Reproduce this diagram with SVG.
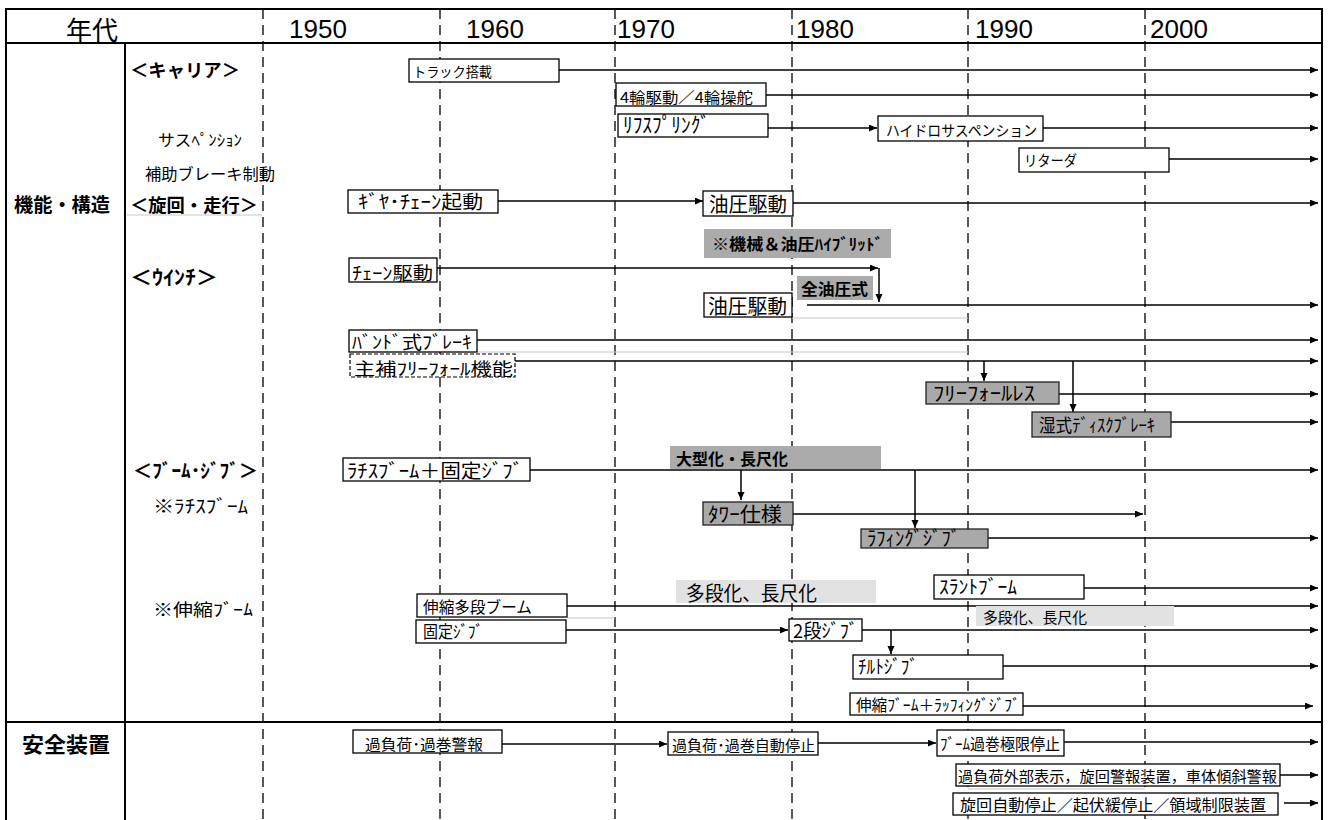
<svg xmlns="http://www.w3.org/2000/svg" width="1329" height="820" viewBox="0 0 1329 820">
<style>
.t{font-family:"Noto Sans CJK JP","Noto Sans",sans-serif;fill:#000}
.b{font-weight:bold}
.yr{font-family:"Liberation Sans",Arial,sans-serif;font-size:26px;fill:#000}
.box{fill:#fff;stroke:#000;stroke-width:1.3}
.dbox{fill:#fff;stroke:#000;stroke-width:1.2;stroke-dasharray:4 2}
.gbox{fill:#a9a9a9;stroke:#222;stroke-width:1.3}
.lbl{fill:#ababab}
.lt{fill:#e2e2e2}
.frame{stroke:#000;stroke-width:2;fill:none}
.dash{stroke:#000;stroke-width:1.3;stroke-dasharray:10 6}
.faint{stroke:#c8c8c8;stroke-width:1.2}
.conn path{stroke:#000;stroke-width:1.5;fill:none}
.ar{marker-end:url(#ah)}
</style>
<defs>
<marker id="ah" markerUnits="userSpaceOnUse" markerWidth="9" markerHeight="8" refX="8" refY="3.5" orient="auto">
<path d="M0,0 L8,3.5 L0,7 z" fill="#000"/>
</marker>
</defs>
<rect width="1329" height="820" fill="#fff"/>

<g id="grid">
<line class="dash" x1="263" y1="9" x2="263" y2="820"/>
<line class="dash" x1="440" y1="9" x2="440" y2="820"/>
<line class="dash" x1="615" y1="9" x2="615" y2="820"/>
<line class="dash" x1="792" y1="9" x2="792" y2="820"/>
<line class="dash" x1="968" y1="9" x2="968" y2="820"/>
<line class="dash" x1="1145" y1="9" x2="1145" y2="820"/>
<path class="frame" d="M6,822 V9 H1322 V822"/>
<line class="frame" x1="6" y1="43" x2="1322" y2="43"/>
<line class="frame" x1="6" y1="722" x2="1322" y2="722"/>
<line class="frame" x1="125" y1="43" x2="125" y2="822"/>
<line class="faint" x1="127" y1="215" x2="262" y2="215"/>
<line class="faint" x1="792" y1="318" x2="968" y2="318"/>
<line class="faint" x1="477" y1="352" x2="968" y2="352"/>
<line class="faint" x1="567" y1="618" x2="615" y2="618"/>
<line class="faint" x1="968" y1="789" x2="1145" y2="789"/>
</g>

<g id="header">
<text class="t" x="92" y="40" font-size="26" text-anchor="middle">年代</text>
<text class="yr" x="289" y="38">1950</text>
<text class="yr" x="466" y="38">1960</text>
<text class="yr" x="617" y="38">1970</text>
<text class="yr" x="796" y="38">1980</text>
<text class="yr" x="975" y="38">1990</text>
<text class="yr" x="1150" y="38">2000</text>
</g>

<g id="labels">
<text class="t b" x="14" y="212" font-size="19" textLength="96" lengthAdjust="spacingAndGlyphs">機能・構造</text>
<text class="t b" x="22" y="752" font-size="21" textLength="88" lengthAdjust="spacingAndGlyphs">安全装置</text>
<text class="t b" x="130" y="77" font-size="18" textLength="110" lengthAdjust="spacingAndGlyphs">＜キャリア＞</text>
<text class="t" x="158" y="146" font-size="16" textLength="84" lengthAdjust="spacingAndGlyphs">サスﾍﾟﾝｼｮﾝ</text>
<text class="t" x="145" y="180" font-size="16" textLength="130" lengthAdjust="spacingAndGlyphs">補助ブレーキ制動</text>
<text class="t b" x="130" y="212" font-size="18" textLength="128" lengthAdjust="spacingAndGlyphs">＜旋回・走行＞</text>
<text class="t b" x="130" y="285" font-size="20" textLength="88" lengthAdjust="spacingAndGlyphs">＜ｳｲﾝﾁ＞</text>
<text class="t b" x="133" y="478" font-size="19" textLength="125" lengthAdjust="spacingAndGlyphs">＜ﾌﾞｰﾑ･ｼﾞﾌﾞ＞</text>
<text class="t" x="153" y="513" font-size="18" textLength="95" lengthAdjust="spacingAndGlyphs">※ﾗﾁｽﾌﾞｰﾑ</text>
<text class="t" x="153" y="616" font-size="17" textLength="100" lengthAdjust="spacingAndGlyphs">※伸縮ﾌﾞｰﾑ</text>
</g>

<g class="conn" id="connectors">
<path class="ar" d="M559,70 H1318"/>
<path class="ar" d="M766,95 H1318"/>
<path class="ar" d="M768,128 H877"/>
<path class="ar" d="M1043,128 H1318"/>
<path class="ar" d="M1169,159 H1318"/>
<path class="ar" d="M498,201 H703"/>
<path class="ar" d="M793,203 H1318"/>
<path class="ar" d="M437,268 H878"/>
<path class="ar" d="M879,268 V302"/>
<path class="ar" d="M807,305 H1318"/>
<path class="ar" d="M477,340 H1318"/>
<path class="ar" d="M515,361 H1318"/>
<path class="ar" d="M984,361 V381"/>
<path class="ar" d="M1073,361 V412"/>
<path class="ar" d="M1059,394 H1318"/>
<path class="ar" d="M1171,422 H1318"/>
<path class="ar" d="M530,470 H1318"/>
<path class="ar" d="M741,470 V500"/>
<path class="ar" d="M915,470 V528"/>
<path class="ar" d="M793,514 H1143"/>
<path class="ar" d="M988,538 H1318"/>
<path class="ar" d="M1084,588 H1318"/>
<path class="ar" d="M567,606 H1318"/>
<path class="ar" d="M566,630 H788"/>
<path class="ar" d="M862,630 H1318"/>
<path class="ar" d="M891,630 V654"/>
<path class="ar" d="M1003,666 H1318"/>
<path class="ar" d="M1023,706 H1313"/>
<path class="ar" d="M502,744 H667"/>
<path class="ar" d="M818,743 H936"/>
<path class="ar" d="M1064,742 H1318"/>
<path class="ar" d="M1280,775 H1318"/>
<path class="ar" d="M1284,803 H1318"/>
</g>

<g id="n-truck"><rect class="box" x="409" y="59" width="150" height="23"/><text class="t" x="413" y="77" font-size="14" textLength="79" lengthAdjust="spacingAndGlyphs">トラック搭載</text></g>
<g id="n-4wd"><rect class="box" x="616" y="83" width="150" height="23"/><text class="t" x="620" y="103" font-size="15" textLength="133" lengthAdjust="spacingAndGlyphs">4輪駆動／4輪操舵</text></g>
<g id="n-leaf"><rect class="box" x="618" y="114" width="150" height="23"/><text class="t" x="623" y="132" font-size="21" textLength="87" lengthAdjust="spacingAndGlyphs">ﾘﾌｽﾌﾟﾘﾝｸﾞ</text></g>
<g id="n-hydrosus"><rect class="box" x="878" y="116" width="165" height="25"/><text class="t" x="886" y="136" font-size="15" textLength="151" lengthAdjust="spacingAndGlyphs">ハイドロサスペンション</text></g>
<g id="n-retarder"><rect class="box" x="1019" y="148" width="150" height="24"/><text class="t" x="1024" y="166" font-size="15" textLength="53" lengthAdjust="spacingAndGlyphs">リターダ</text></g>

<g id="n-gear"><rect class="box" x="348" y="190" width="150" height="23"/><text class="t" x="358" y="209" font-size="19" textLength="125" lengthAdjust="spacingAndGlyphs">ｷﾞﾔ･ﾁｪｰﾝ起動</text></g>
<g id="n-hyd1"><rect class="box" x="703" y="191" width="90" height="25"/><text class="t" x="709" y="212" font-size="20" textLength="78" lengthAdjust="spacingAndGlyphs">油圧駆動</text></g>
<g id="a-hybrid"><rect class="lbl" x="704" y="229" width="187" height="29"/><text class="t b" x="712" y="250" font-size="16" textLength="171" lengthAdjust="spacingAndGlyphs">※機械＆油圧ﾊｲﾌﾞﾘｯﾄﾞ</text></g>

<g id="n-chain"><rect class="box" x="349" y="258" width="88" height="24"/><text class="t" x="352" y="280" font-size="18" textLength="81" lengthAdjust="spacingAndGlyphs">ﾁｪｰﾝ駆動</text></g>
<g id="a-fullhyd"><rect class="lbl" x="797" y="276" width="76" height="24"/><text class="t b" x="801" y="295" font-size="16" textLength="67" lengthAdjust="spacingAndGlyphs">全油圧式</text></g>
<g id="n-hyd2"><rect class="box" x="704" y="293" width="88" height="24"/><text class="t" x="708" y="314" font-size="20" textLength="79" lengthAdjust="spacingAndGlyphs">油圧駆動</text></g>
<g id="n-band"><rect class="box" x="349" y="330" width="128" height="22"/><text class="t" x="352" y="349" font-size="18" textLength="120" lengthAdjust="spacingAndGlyphs">ﾊﾞﾝﾄﾞ式ﾌﾞﾚｰｷ</text></g>
<g id="n-freefall"><rect class="dbox" x="350" y="354" width="165" height="23"/><text class="t" x="354" y="375" font-size="17" textLength="159" lengthAdjust="spacingAndGlyphs">主補ﾌﾘｰﾌｫｰﾙ機能</text></g>
<g id="n-ffless"><rect class="gbox" x="926" y="382" width="133" height="22"/><text class="t" x="933" y="401" font-size="20" textLength="102" lengthAdjust="spacingAndGlyphs">ﾌﾘｰﾌｫｰﾙﾚｽ</text></g>
<g id="n-wetdisc"><rect class="gbox" x="1032" y="412" width="139" height="25"/><text class="t" x="1039" y="432" font-size="18" textLength="116" lengthAdjust="spacingAndGlyphs">湿式ﾃﾞｨｽｸﾌﾞﾚｰｷ</text></g>

<g id="n-lattice"><rect class="box" x="343" y="458" width="187" height="23"/><text class="t" x="347" y="478" font-size="19" textLength="176" lengthAdjust="spacingAndGlyphs">ﾗﾁｽﾌﾞｰﾑ＋固定ｼﾞﾌﾞ</text></g>
<g id="a-large"><rect class="lbl" x="670" y="446" width="211" height="23"/><text class="t b" x="676" y="465" font-size="16" textLength="112" lengthAdjust="spacingAndGlyphs">大型化・長尺化</text></g>
<g id="n-tower"><rect class="gbox" x="703" y="502" width="90" height="23"/><text class="t" x="708" y="522" font-size="20" textLength="74" lengthAdjust="spacingAndGlyphs">ﾀﾜｰ仕様</text></g>
<g id="n-luffing"><rect class="gbox" x="861" y="529" width="127" height="19"/><text class="t" x="867" y="546" font-size="20" textLength="93" lengthAdjust="spacingAndGlyphs">ﾗﾌｨﾝｸﾞｼﾞﾌﾞ</text></g>

<g id="a-multi1"><rect class="lt" x="676" y="580" width="200" height="23"/><text class="t" x="686" y="601" font-size="20" textLength="131" lengthAdjust="spacingAndGlyphs">多段化、長尺化</text></g>
<g id="n-telescopic"><rect class="box" x="417" y="594" width="150" height="23"/><text class="t" x="423" y="613" font-size="16" textLength="109" lengthAdjust="spacingAndGlyphs">伸縮多段ブーム</text></g>
<g id="n-fixedjib"><rect class="box" x="416" y="620" width="150" height="23"/><text class="t" x="423" y="638" font-size="17" textLength="60" lengthAdjust="spacingAndGlyphs">固定ｼﾞﾌﾞ</text></g>
<g id="n-2jib"><rect class="box" x="789" y="619" width="73" height="22"/><text class="t" x="793" y="638" font-size="19" textLength="65" lengthAdjust="spacingAndGlyphs">2段ｼﾞﾌﾞ</text></g>
<g id="n-tilt"><rect class="box" x="853" y="655" width="150" height="24"/><text class="t" x="858" y="674" font-size="19" textLength="60" lengthAdjust="spacingAndGlyphs">ﾁﾙﾄｼﾞﾌﾞ</text></g>
<g id="n-slant"><rect class="box" x="934" y="575" width="150" height="24"/><text class="t" x="939" y="594" font-size="19" textLength="78" lengthAdjust="spacingAndGlyphs">ｽﾗﾝﾄﾌﾞｰﾑ</text></g>
<g id="a-multi2"><rect class="lt" x="976" y="606" width="198" height="20"/><text class="t" x="983" y="623" font-size="15" textLength="104" lengthAdjust="spacingAndGlyphs">多段化、長尺化</text></g>
<g id="n-telluff"><rect class="box" x="850" y="693" width="173" height="22"/><text class="t" x="856" y="711" font-size="16" textLength="164" lengthAdjust="spacingAndGlyphs">伸縮ﾌﾞｰﾑ＋ﾗｯﾌｨﾝｸﾞｼﾞﾌﾞ</text></g>

<g id="n-overload"><rect class="box" x="353" y="730" width="149" height="23"/><text class="t" x="365" y="750" font-size="15" textLength="118" lengthAdjust="spacingAndGlyphs">過負荷･過巻警報</text></g>
<g id="n-autostop"><rect class="box" x="668" y="732" width="150" height="23"/><text class="t" x="672" y="751" font-size="15" textLength="143" lengthAdjust="spacingAndGlyphs">過負荷･過巻自動停止</text></g>
<g id="n-boomlimit"><rect class="box" x="937" y="730" width="127" height="26"/><text class="t" x="940" y="750" font-size="16" textLength="120" lengthAdjust="spacingAndGlyphs">ﾌﾞｰﾑ過巻極限停止</text></g>
<g id="n-display"><rect class="box" x="956" y="764" width="324" height="22"/><text class="t" x="958" y="782" font-size="15" textLength="319" lengthAdjust="spacingAndGlyphs">過負荷外部表示，旋回警報装置，車体傾斜警報</text></g>
<g id="n-slewstop"><rect class="box" x="953" y="793" width="325" height="22"/><text class="t" x="960" y="811" font-size="16" textLength="306" lengthAdjust="spacingAndGlyphs">旋回自動停止／起伏緩停止／領域制限装置</text></g>
</svg>
